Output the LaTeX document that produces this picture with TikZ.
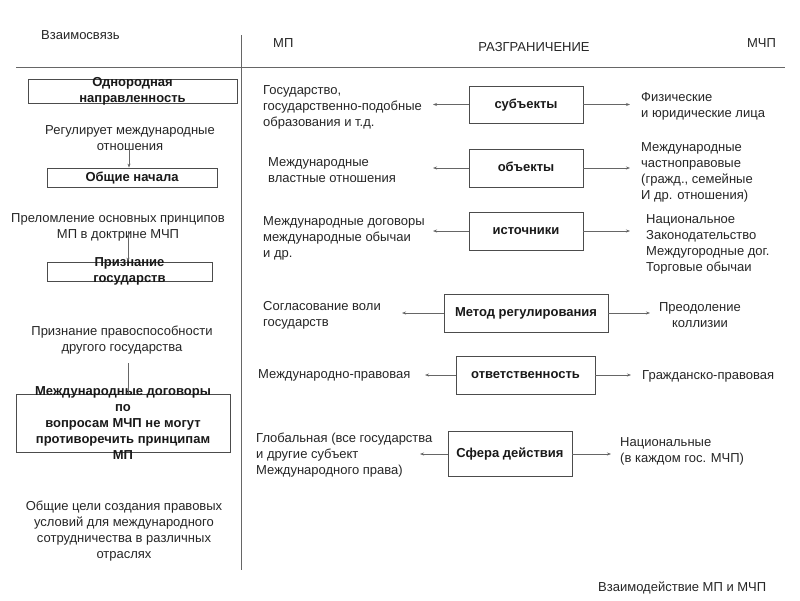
\documentclass[tikz,border=0pt]{standalone}
\usepackage{fontspec}
\setmainfont{Liberation Sans}
\usetikzlibrary{arrows.meta}
\begin{document}
\begin{tikzpicture}[x=1pt,y=-1pt,
  txt/.style={font=\fontsize{13}{16}\selectfont, text=black!85, inner sep=0pt},
  lt/.style={txt, align=left, anchor=west},
  ct/.style={txt, align=center},
  bxt/.style={font=\bfseries\fontsize{13}{16}\selectfont, text=black!90, inner sep=0pt, align=center},
  bx/.style={draw=black!70, line width=0.8pt, inner sep=0pt, bxt, text height=9pt, text depth=2pt},
  arr/.style={draw=black!60, line width=0.8pt, -{Stealth[length=4pt,width=3pt]}},
  ln/.style={draw=black!60, line width=0.8pt},
  rule/.style={draw=black!60, line width=1pt}]
\useasboundingbox (0,0) rectangle (800,600);
\fill[white] (0,0) rectangle (800,600);

% rules
\coordinate (hl) at (16,67);
\coordinate (hr) at (785,67);
\coordinate (vt) at (241,35);
\coordinate (vb) at (241,570);
\draw[rule] (hl) -- (hr);
\draw[rule] (vt) -- (vb);

% headings
\node[lt] (h1) at (41,35) {Взаимосвязь};
\node[lt] (h2) at (273,43) {МП};
\node[ct] (h3) at (534,47) {РАЗГРАНИЧЕНИЕ};
\node[lt] (h4) at (747,43) {МЧП};
\node[lt] (h5) at (598,588) {Взаимодействие МП и МЧП};

% left column
\node[bx, minimum width=209, minimum height=24,
  label={[bxt]center:{Однородная\\направленность}}] (b1) at (132.5,91) {};
\node[ct] (t1) at (130,138.5) {Регулирует международные\\отношения};
\node[bx, minimum width=170, minimum height=19] (b2) at (132,177.5) {Общие начала};
\node[ct] (t2) at (118,227.5) {Преломление основных принципов\\МП в доктрине МЧП};
\node[bx, minimum width=165, minimum height=19,
  label={[bxt]center:{Признание\\государств}}] (b3) at (129.5,271.5) {};
\node[ct] (t3) at (122,340.5) {Признание правоспособности\\другого государства};
\node[bx, minimum width=214, minimum height=58,
  label={[bxt]center:{Международные договоры\\по\\вопросам МЧП не могут\\противоречить принципам\\МП}}] (b4) at (123,423) {};
\node[ct] (t4) at (124,531.5) {Общие цели создания правовых\\условий для международного\\сотрудничества в различных\\отраслях};

\coordinate (c1) at (129,143);
\coordinate (c2) at (128,231);
\coordinate (c3) at (128,363);
\draw[arr] (c1) -- (c1 |- b2.north);
\draw[arr] (c2) -- (c2 |- b3.north);
\draw[ln] (c3) -- (c3 |- b4.north);

% middle boxes
\node[bx, minimum width=114, minimum height=37] (s1) at (526,104.5) {субъекты};
\node[bx, minimum width=114, minimum height=38] (s2) at (526,168) {объекты};
\node[bx, minimum width=114, minimum height=38] (s3) at (526,231) {источники};
\node[bx, minimum width=164, minimum height=38] (s4) at (526,313) {Метод регулирования};
\node[bx, minimum width=139, minimum height=38] (s5) at (525.5,375) {ответственность};
\node[bx, minimum width=124, minimum height=45] (s6) at (510,454) {Сфера действия};

% left texts (МП)
\node[lt] (l1) at (263,107) {Государство,\\государственно-подобные\\образования и т.д.};
\node[lt] (l2) at (268,170) {Международные\\властные отношения};
\node[lt] (l3) at (263,238) {Международные договоры\\международные обычаи\\и др.};
\node[lt] (l4) at (263,315.5) {Согласование воли\\государств};
\node[lt] (l5) at (258,375) {Международно-правовая};
\node[lt] (l6) at (256,455.5) {Глобальная (все государства\\и другие субъект\\Международного права)};

% right texts (МЧП)
\node[lt] (r1) at (641,106) {Физические\\и юридические лица};
\node[lt] (r2) at (641,172) {Международные\\частноправовые\\(гражд., семейные\\И др. отношения)};
\node[lt] (r3) at (646,244) {Национальное\\Законодательство\\Междугородные дог.\\Торговые обычаи};
\node[ct] (r4) at (700,315.5) {Преодоление\\коллизии};
\node[lt] (r5) at (642,376) {Гражданско-правовая};
\node[lt] (r6) at (620,451.5) {Национальные\\(в каждом гос. МЧП)};

% arrow ends
\coordinate (a1l) at (433,104.5); \coordinate (a1r) at (630,104.5);
\coordinate (a2l) at (433,168);   \coordinate (a2r) at (630,168);
\coordinate (a3l) at (433,231);   \coordinate (a3r) at (630,231);
\coordinate (a4l) at (402,313);   \coordinate (a4r) at (650,313);
\coordinate (a5l) at (425,375);   \coordinate (a5r) at (631,375);
\coordinate (a6l) at (420,454);   \coordinate (a6r) at (611,454);

\draw[arr] (s1.west) -- (a1l);  \draw[arr] (s1.east) -- (a1r);
\draw[arr] (s2.west) -- (a2l);  \draw[arr] (s2.east) -- (a2r);
\draw[arr] (s3.west) -- (a3l);  \draw[arr] (s3.east) -- (a3r);
\draw[arr] (s4.west) -- (a4l);  \draw[arr] (s4.east) -- (a4r);
\draw[arr] (s5.west) -- (a5l);  \draw[arr] (s5.east) -- (a5r);
\draw[arr] (s6.west) -- (a6l);  \draw[arr] (s6.east) -- (a6r);
\end{tikzpicture}
\end{document}
